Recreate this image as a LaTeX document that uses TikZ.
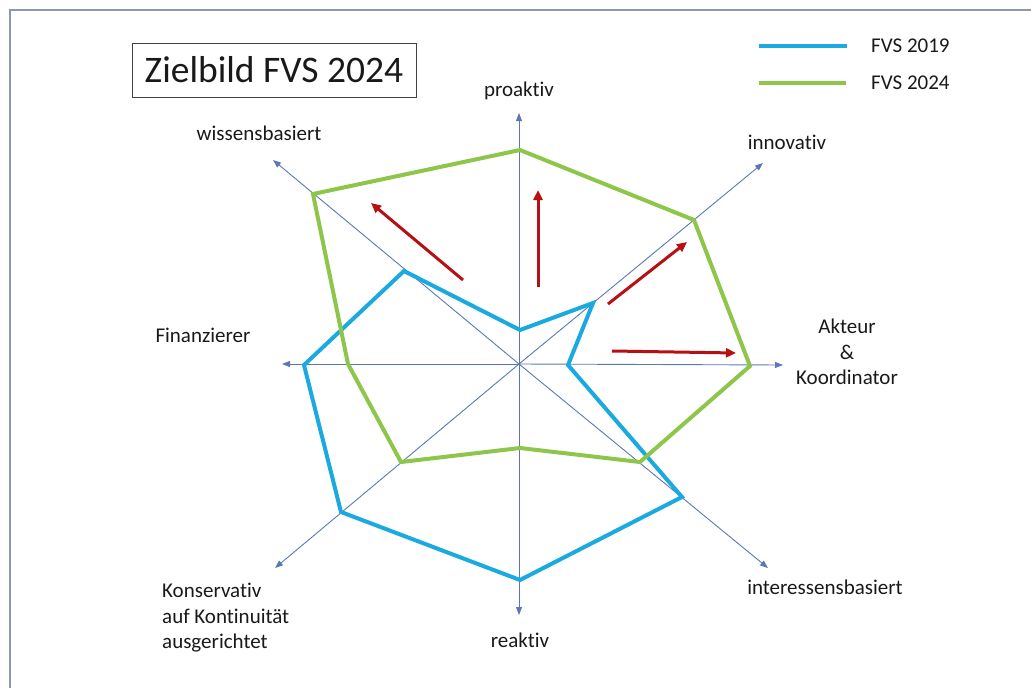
\documentclass[tikz,border=0pt]{standalone}
\usepackage{fontspec}
\setmainfont[Ligatures=NoCommon]{Carlito}
\usetikzlibrary{arrows.meta,positioning}

\definecolor{axisblue}{HTML}{5A78B4}
\definecolor{line19}{HTML}{1AAAE0}
\definecolor{line24}{HTML}{8DC64A}
\definecolor{shiftred}{HTML}{B80F14}
\definecolor{framegray}{HTML}{8C99AC}

\begin{document}
\begin{tikzpicture}[x=1pt, y=-1pt,
        every node/.style={font=\fontsize{21}{25.5}\selectfont, text=black!90, inner sep=0pt, align=center},
        axis/.style={draw=axisblue, line width=0.9pt, -{Triangle[length=8pt,width=6pt]}},
        fvsold/.style={draw=line19, line width=4pt, line join=miter},
        fvsnew/.style={draw=line24, line width=4pt, line join=miter},
        movearrow/.style={draw=shiftred, line width=3pt, -{Triangle[length=10pt,width=9pt]}},
        titlebox/.style={draw=black!75, line width=0.8pt, font=\fontsize{37.5}{44}\selectfont, minimum width=284pt, minimum height=54pt}
    ]
    \useasboundingbox (0,0) rectangle (1031,688);

    % Frame
    \draw[framegray, line width=1.5pt] (10,700) -- (10,10) -- (1040,10);

    % Title
    \node[titlebox] (title) at (274,70) {Zielbild FVS 2024};

    % Axes
    \coordinate (c) at (519,364);
    \coordinate (pro) at (519,113);
    \coordinate (inn) at (763,163);
    \coordinate (akt) at (783,365);
    \coordinate (int) at (768,568);
    \coordinate (rea) at (519,615);
    \coordinate (kon) at (275,568);
    \coordinate (fin) at (282,364);
    \coordinate (wis) at (273,160);
    \foreach \tip in {pro,inn,akt,int,rea,kon,fin,wis}
        \draw[axis] (c) -- (\tip);

    % FVS 2019
    \coordinate (o1) at (520,330);
    \coordinate (o2) at (593,303);
    \coordinate (o3) at (568,365);
    \coordinate (o4) at (682,497);
    \coordinate (o5) at (520,580);
    \coordinate (o6) at (341,512);
    \coordinate (o7) at (304,365);
    \coordinate (o8) at (404,271);
    \draw[fvsold] (o1) -- (o2) -- (o3) -- (o4) -- (o5) -- (o6) -- (o7) -- (o8) -- cycle;

    % FVS 2024
    \coordinate (n1) at (520,150);
    \coordinate (n2) at (694,220);
    \coordinate (n3) at (750,366);
    \coordinate (n4) at (640,462);
    \coordinate (n5) at (520,448);
    \coordinate (n6) at (401,462);
    \coordinate (n7) at (348,364);
    \coordinate (n8) at (313,194);
    \draw[fvsnew] (n1) -- (n2) -- (n3) -- (n4) -- (n5) -- (n6) -- (n7) -- (n8) -- cycle;

    % Shift arrows
    \coordinate (s1a) at (463,280);  \coordinate (s1b) at (371,203);
    \coordinate (s2a) at (538,287);  \coordinate (s2b) at (538,190);
    \coordinate (s3a) at (608,304);  \coordinate (s3b) at (687,242);
    \coordinate (s4a) at (612,351);  \coordinate (s4b) at (736,353);
    \draw[movearrow] (s1a) -- (s1b);
    \draw[movearrow] (s2a) -- (s2b);
    \draw[movearrow] (s3a) -- (s3b);
    \draw[movearrow] (s4a) -- (s4b);

    % Labels
    \node (lpro) at (519,91) {proaktiv};
    \node (linn) at (787,142) {innovativ};
    \node (lakt) at (847,352) {Akteur\\\&\\Koordinator};
    \node (lint) at (825,587) {interessensbasiert};
    \node (lrea) at (520,640) {reaktiv};
    \node[anchor=west, align=left] (lkon) at (162,618) {Konservativ\\auf Kontinuität\\ausgerichtet};
    \node (lfin) at (203,335) {Finanzierer};
    \node (lwis) at (259,133) {wissensbasiert};

    % Legend
    \coordinate (k1a) at (759,46);  \coordinate (k1b) at (847,46);
    \coordinate (k2a) at (759,83);  \coordinate (k2b) at (846,83);
    \draw[draw=line19, line width=4pt] (k1a) -- (k1b);
    \draw[draw=line24, line width=4pt] (k2a) -- (k2b);
    \node[anchor=west] (leg19) at (871,46) {FVS 2019};
    \node[anchor=west] (leg24) at (871,83) {FVS 2024};
\end{tikzpicture}
\end{document}
